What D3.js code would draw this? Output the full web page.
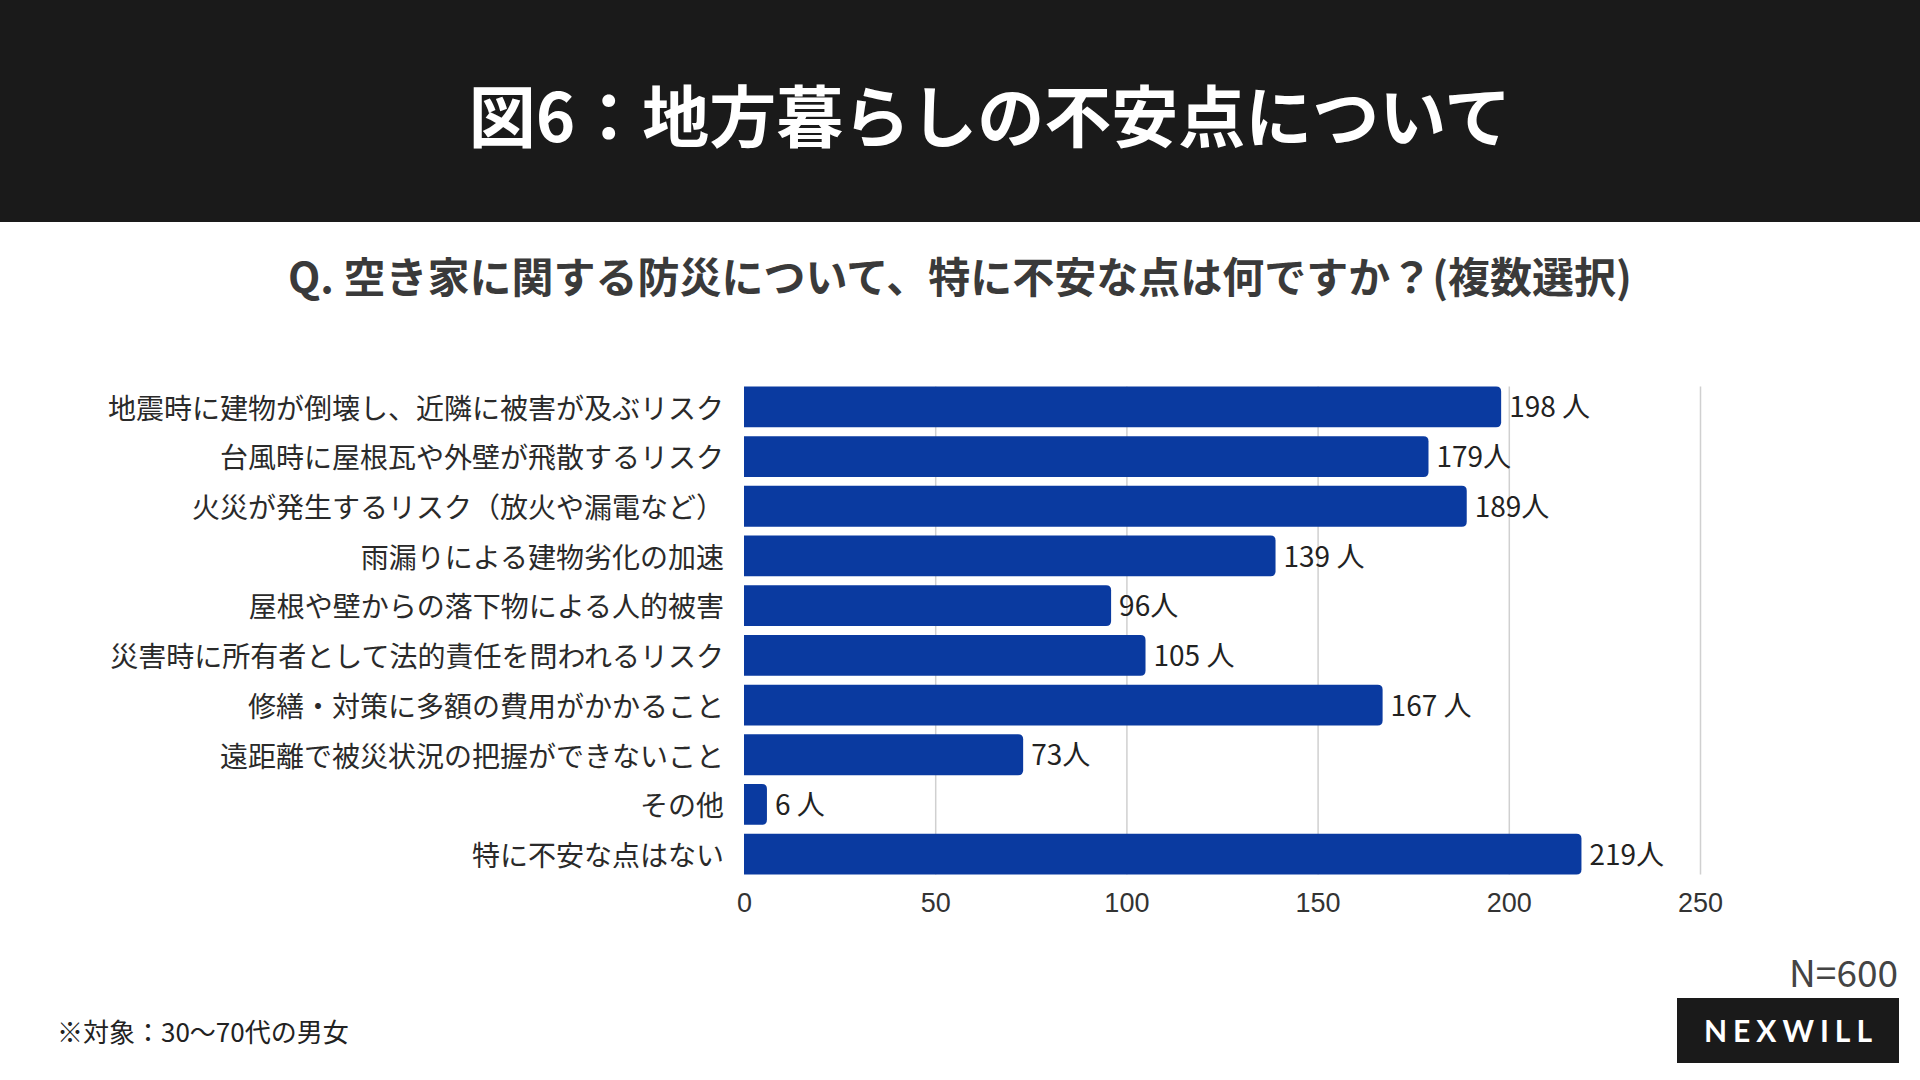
<!DOCTYPE html>
<meta charset="utf-8">
<style>
body { margin: 0; background: #fff; }
svg { display: block; font-family: "Noto Sans CJK JP", "Noto Sans", sans-serif; }
.grid .domain { display: none; }
.grid line { stroke: #d0d0d0; stroke-width: 1.5; }
.x.axis .domain { display: none; }
.x.axis text { font-size: 27px; fill: #333; }
</style>
<body>
<script src="https://d3js.org/d3.v7.min.js"></script>
<script>

// chart data
var categories = [
  "地震時に建物が倒壊し、近隣に被害が及ぶリスク",
  "台風時に屋根瓦や外壁が飛散するリスク",
  "火災が発生するリスク（放火や漏電など）",
  "雨漏りによる建物劣化の加速",
  "屋根や壁からの落下物による人的被害",
  "災害時に所有者として法的責任を問われるリスク",
  "修繕・対策に多額の費用がかかること",
  "遠距離で被災状況の把握ができないこと",
  "その他",
  "特に不安な点はない"
];
var values = [198, 179, 189, 139, 96, 105, 167, 73, 6, 219];
var valueLabels = ["198 人", "179人", "189人", "139 人", "96人", "105 人", "167 人", "73人", "6 人", "219人"];
var xTicks = [0, 50, 100, 150, 200, 250];

var title = "図6：地方暮らしの不安点について";
var subtitle = "Q. 空き家に関する防災について、特に不安な点は何ですか？(複数選択)";
var note = "※対象：30〜70代の男女";
var sampleSize = "N=600";
var brand = "NEXWILL";

var W = 1920, H = 1080;
var svg = d3.select("body").append("svg")
  .attr("width", W)
  .attr("height", H);

// header band
svg.append("rect")
  .attr("x", 0).attr("y", 0)
  .attr("width", W).attr("height", 222)
  .attr("fill", "#1a1a1a");

svg.append("text")
  .attr("x", 990).attr("y", 112)
  .attr("text-anchor", "middle")
  .attr("dominant-baseline", "central")
  .style("font-size", "67px")
  .style("font-weight", 700)
  .attr("fill", "#fff")
  .text(title);

svg.append("text")
  .attr("x", 960).attr("y", 293)
  .attr("text-anchor", "middle")
  .style("font-size", "42px")
  .style("font-weight", 700)
  .attr("fill", "#3a3a3a")
  .text(subtitle);

// scales
var x = d3.scaleLinear()
  .domain([0, 250])
  .range([744, 1700]);

var y = d3.scaleBand()
  .domain(categories)
  .range([382, 879])
  .paddingInner(0.18)
  .paddingOuter(0.09);

var gridTop = y(categories[0]);
var gridBottom = y(categories[categories.length - 1]) + y.bandwidth();

// vertical grid lines
svg.append("g")
  .attr("class", "grid")
  .attr("transform", "translate(0," + gridBottom + ")")
  .call(d3.axisBottom(x)
    .tickValues(xTicks.slice(1))
    .tickSize(-(gridBottom - gridTop))
    .tickFormat(""));

// x axis labels
svg.append("g")
  .attr("class", "x axis")
  .attr("transform", "translate(0,886)")
  .call(d3.axisBottom(x)
    .tickValues(xTicks)
    .tickSize(0)
    .tickPadding(0))
  .selectAll("text")
    .attr("dy", "0.95em");

// bars, flat on the left, rounded on the right
var r = 5;
function barPath(d, i) {
  var x0 = x(0), x1 = x(d), y0 = y(categories[i]), h = y.bandwidth();
  var rr = Math.min(r, (x1 - x0) / 2);
  return "M" + x0 + "," + y0 +
    "H" + (x1 - rr) +
    "Q" + x1 + "," + y0 + " " + x1 + "," + (y0 + rr) +
    "V" + (y0 + h - rr) +
    "Q" + x1 + "," + (y0 + h) + " " + (x1 - rr) + "," + (y0 + h) +
    "H" + x0 + "Z";
}

svg.append("g")
  .selectAll("path")
  .data(values)
  .enter().append("path")
    .attr("d", barPath)
    .attr("fill", "#0a3aa0");

// value labels
svg.append("g")
  .selectAll("text")
  .data(values)
  .enter().append("text")
    .attr("x", function(d) { return x(d) + 8; })
    .attr("y", function(d, i) { return y(categories[i]) + y.bandwidth() / 2; })
    .attr("dy", "0.38em")
    .style("font-size", "28px")
    .attr("fill", "#222")
    .text(function(d, i) { return valueLabels[i]; });

// category labels
svg.append("g")
  .selectAll("text")
  .data(categories)
  .enter().append("text")
    .attr("x", 724)
    .attr("y", function(d) { return y(d) + y.bandwidth() / 2; })
    .attr("dy", "0.42em")
    .attr("text-anchor", "end")
    .style("font-size", "28px")
    .attr("fill", "#2a2a2a")
    .text(function(d) { return d; });

// footer
svg.append("text")
  .attr("x", 57).attr("y", 1042)
  .style("font-size", "26px")
  .attr("fill", "#222")
  .text(note);

svg.append("text")
  .attr("x", 1898).attr("y", 987)
  .attr("text-anchor", "end")
  .style("font-size", "37px")
  .attr("fill", "#444")
  .text(sampleSize);

svg.append("rect")
  .attr("x", 1677).attr("y", 998)
  .attr("width", 222).attr("height", 65)
  .attr("fill", "#1a1a1a");

svg.append("text")
  .attr("x", 1791).attr("y", 1042)
  .attr("text-anchor", "middle")
  .style("font-family", "Lato, 'Open Sans', sans-serif")
  .style("font-size", "30px")
  .style("font-weight", 700)
  .style("letter-spacing", "6px")
  .attr("fill", "#fff")
  .text(brand);

</script>
